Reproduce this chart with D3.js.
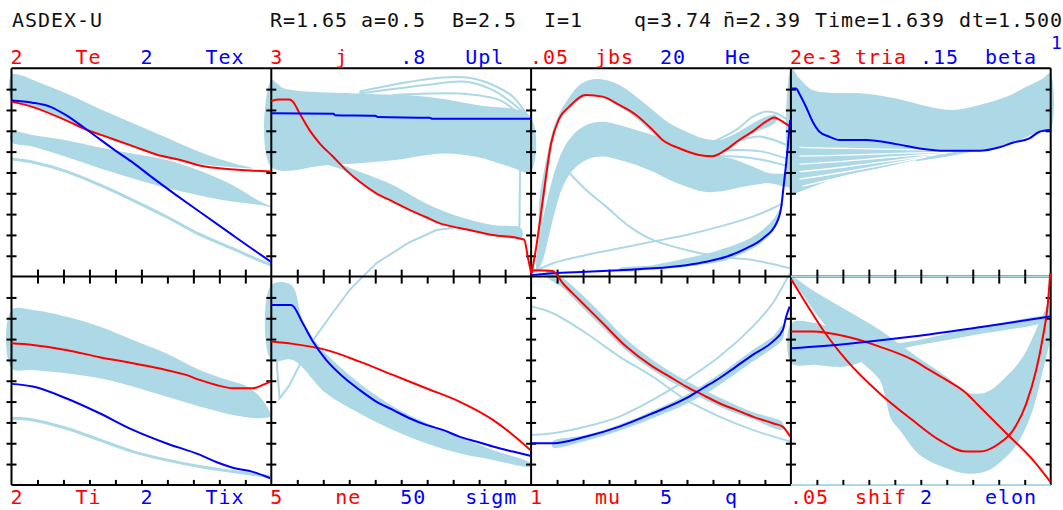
<!DOCTYPE html>
<html><head><meta charset="utf-8">
<script src="https://cdn.jsdelivr.net/npm/d3@7"></script>
<style>
body{margin:0;background:#fff}
svg{display:block}
text{font-family:"DejaVu Sans Mono",monospace;font-size:20px;white-space:pre}
</style></head>
<body><svg width="1063" height="510"></svg>
<script>
// ---------- axis maxima and labels ----------
const redNames  = ["Te","j","jbs","tria","Ti","ne","mu","shif"];
const blueNames = ["Tex","Upl","He","beta","Tix","sigm","q","elon"];
const redMaxLbl = ["2","3",".05","2e-3","2","5","1",".05"];
const blueMaxLbl= ["2",".8","20",".15","2","50","5","2"];
const redMax  = [2,3,0.05,0.002,2,5,1,0.05];
const blueMax = [2,0.8,20,0.15,2,50,5,2];
const headerTexts = ["ASDEX-U","R=1.65 a=0.5  B=2.5","I=1","q=3.74","n\u0304=2.39","Time=1.639","dt=1.500"];

// ---------- panel 1: Te / Tex ----------
const teRed = [[0,1.68],[0.08,1.63],[0.21,1.50],[0.29,1.41],[0.38,1.33],[0.47,1.25],[0.56,1.17],[0.65,1.12],[0.72,1.07],[0.80,1.04],[0.90,1.02],[1.0,1.01]];
const texBlue = [[0,1.69],[0.08,1.67],[0.15,1.63],[0.21,1.55],[0.29,1.41],[0.40,1.21],[0.47,1.09],[0.54,0.955],[0.63,0.79],[0.72,0.63],[0.85,0.40],[0.93,0.26],[1.0,0.14]];
const teHistUpper = [[0,1.94],[0.04,1.93],[0.08,1.89],[0.21,1.76],[0.34,1.61],[0.47,1.47],[0.60,1.33],[0.72,1.20],[0.85,1.09],[0.93,1.04],[0.85,1.05],[0.72,1.08],[0.60,1.14],[0.47,1.24],[0.34,1.36],[0.21,1.51],[0.08,1.64],[0,1.70]];
const teHistLower = [[0,1.39],[0.08,1.36],[0.21,1.31],[0.34,1.24],[0.47,1.18],[0.60,1.12],[0.72,1.02],[0.85,0.88],[0.95,0.73],[1.0,0.67],[0.95,0.69],[0.85,0.72],[0.72,0.78],[0.60,0.85],[0.47,0.94],[0.34,1.04],[0.21,1.15],[0.08,1.25],[0,1.29]];
const texHistLine = [[0,1.13],[0.08,1.10],[0.21,1.01],[0.34,0.88],[0.47,0.73],[0.60,0.57],[0.72,0.41],[0.85,0.27],[0.95,0.16],[1.0,0.11]];

// ---------- panel 2: j / Upl ----------
const jRed = [[0,2.53],[0.03,2.55],[0.07,2.55],[0.083,2.52],[0.109,2.35],[0.147,2.11],[0.186,1.92],[0.237,1.73],[0.289,1.53],[0.339,1.37],[0.404,1.20],[0.468,1.08],[0.532,0.96],[0.596,0.855],[0.647,0.77],[0.724,0.70],[0.788,0.65],[0.852,0.60],[0.955,0.55],[0.974,0.53],[0.987,0.29],[1.0,0.05]];
const uplBlue = [[0,0.627],[0.24,0.625],[0.245,0.62],[0.40,0.618],[0.41,0.613],[0.61,0.61],[0.62,0.606],[1.0,0.606]];
const uplHistBand = [[0,0.755],[0.032,0.729],[0.083,0.716],[0.339,0.703],[0.596,0.691],[0.789,0.659],[0.997,0.614],[0.997,0.403],[0.917,0.422],[0.789,0.460],[0.660,0.473],[0.468,0.447],[0.211,0.428],[0,0.422]];
const uplHistDiag = [[0.211,0.447],[0.339,0.403],[0.468,0.352],[0.596,0.281],[0.724,0.230],[0.853,0.198],[0.962,0.185],[0.962,0.147],[0.853,0.159],[0.724,0.185],[0.596,0.227],[0.468,0.287],[0.339,0.364],[0.275,0.409],[0.211,0.435]];
const uplHistArc1 = [[0.339,0.710],[0.532,0.748],[0.660,0.765],[0.776,0.761],[0.853,0.736],[0.930,0.691],[0.981,0.627],[0.997,0.607]];
const uplHistArc2 = [[0.339,0.703],[0.596,0.736],[0.750,0.748],[0.853,0.716],[0.930,0.665],[0.997,0.607]];
const uplHistArc3 = [[0.468,0.697],[0.724,0.703],[0.878,0.678],[0.955,0.627],[0.997,0.607]];
const jHistLine = [[0,2.83],[0.044,2.69],[0.083,2.54],[0.121,2.35],[0.16,2.16],[0.211,1.94]];
const uplHistNeg = [[0.02,-0.321],[0.032,-0.467],[0.07,-0.417],[0.147,-0.263],[0.224,-0.156],[0.301,-0.052],[0.405,0.052],[0.532,0.132],[0.636,0.179],[0.724,0.19],[0.955,0.19],[0.959,0.551],[0.998,0.54]];

// ---------- panel 3: jbs / He ----------
const jbsRed = [[0.002,0.0008],[0.02,0.0072],[0.045,0.0184],[0.077,0.0320],[0.109,0.0380],[0.147,0.0408],[0.211,0.0436],[0.275,0.0432],[0.339,0.0412],[0.404,0.0388],[0.468,0.0352],[0.506,0.0328],[0.570,0.0308],[0.647,0.0292],[0.698,0.0289],[0.749,0.0304],[0.801,0.0328],[0.852,0.0348],[0.904,0.0372],[0.936,0.0382],[0.968,0.0372],[0.997,0.0360]];
const heBlue = [[0.002,0.14],[0.084,0.31],[0.212,0.46],[0.340,0.62],[0.469,0.79],[0.597,1.10],[0.674,1.42],[0.751,1.90],[0.828,2.71],[0.892,3.67],[0.944,5.11],[0.963,6.71],[0.969,7.99],[0.979,10.23],[0.987,12.15],[0.997,15.03]];
const jbsHistBand1 = [[0.032,0.0184],[0.058,0.0280],[0.084,0.0352],[0.109,0.0392],[0.148,0.0432],[0.186,0.0460],[0.225,0.0472],[0.276,0.0473],[0.340,0.0460],[0.405,0.0432],[0.468,0.0400],[0.533,0.0368],[0.597,0.0348],[0.661,0.0332],[0.725,0.0328],[0.789,0.0344],[0.853,0.0368],[0.905,0.0384],[0.943,0.0388],[0.943,0.0372],[0.853,0.0344],[0.789,0.0324],[0.725,0.0292],[0.661,0.0288],[0.597,0.0300],[0.533,0.0313],[0.468,0.0344],[0.405,0.0380],[0.340,0.0408],[0.276,0.0430],[0.212,0.0433],[0.148,0.0406],[0.109,0.0376],[0.084,0.0320],[0.058,0.0216],[0.032,0.0072]];
const jbsHistBand2 = [[0.020,0.0040],[0.045,0.0136],[0.071,0.0208],[0.097,0.0264],[0.122,0.0304],[0.161,0.0340],[0.212,0.0364],[0.276,0.0372],[0.340,0.0364],[0.405,0.0352],[0.468,0.0340],[0.533,0.0328],[0.597,0.0312],[0.661,0.0296],[0.725,0.0288],[0.789,0.0280],[0.853,0.0264],[0.918,0.0248],[0.997,0.0244],[0.997,0.0216],[0.918,0.0224],[0.853,0.0220],[0.789,0.0212],[0.725,0.0204],[0.661,0.0204],[0.597,0.0216],[0.533,0.0232],[0.468,0.0252],[0.405,0.0268],[0.340,0.0280],[0.276,0.0288],[0.212,0.0280],[0.161,0.0256],[0.122,0.0216],[0.097,0.0168],[0.071,0.0104],[0.045,0.0040],[0.020,0.0008]];
const heHistBand = [[0.340,0.79],[0.468,1.10],[0.597,1.75],[0.725,2.55],[0.853,3.82],[0.930,5.43],[0.969,7.03],[0.963,6.39],[0.943,4.78],[0.892,3.34],[0.828,2.38],[0.751,1.58],[0.674,1.20],[0.597,0.94],[0.468,0.69],[0.340,0.56]];
const jbsHistLineA = [[0.002,0.0008],[0.084,0.0032],[0.212,0.0052],[0.340,0.0068],[0.468,0.0084],[0.597,0.0100],[0.725,0.0120],[0.853,0.0144],[0.930,0.0164],[0.969,0.0176]];
const jbsHistLineB = [[0.148,0.0248],[0.212,0.0208],[0.289,0.0168],[0.379,0.0120],[0.468,0.0088],[0.597,0.0064],[0.725,0.0048],[0.853,0.0040],[0.997,0.0020]];
const jbsHistFan1 = [[0.661,0.0312],[0.789,0.0352],[0.853,0.0384],[0.905,0.0396],[0.943,0.0392],[0.997,0.0372]];
const jbsHistFan2 = [[0.661,0.0304],[0.789,0.0324],[0.879,0.0336],[0.997,0.0312]];
const jbsHistFan3 = [[0.661,0.0296],[0.789,0.0304],[0.892,0.0300],[0.997,0.0280]];
const jbsHistFan4 = [[0.674,0.0288],[0.789,0.0288],[0.892,0.0280],[0.997,0.0264]];

// ---------- panel 4: tria / beta ----------
const triaRed = [[0.002,-0.00003],[0.059,-0.00026],[0.123,-0.00051],[0.213,-0.00080],[0.341,-0.00112],[0.469,-0.00138],[0.572,-0.00157],[0.674,-0.00168],[0.726,-0.00168],[0.803,-0.00160],[0.854,-0.00148],[0.906,-0.00122],[0.944,-0.00090],[0.970,-0.00058],[0.989,-0.00026],[0.998,0.00003]];
const betaBlue = [[0.002,0.1355],[0.020,0.1355],[0.032,0.1319],[0.058,0.1223],[0.084,0.1115],[0.110,0.1043],[0.148,0.1007],[0.187,0.0983],[0.289,0.0983],[0.405,0.0954],[0.495,0.0923],[0.597,0.0906],[0.726,0.0906],[0.803,0.0931],[0.854,0.0964],[0.918,0.0995],[0.957,0.1043],[0.998,0.1055]];
const betaHistBand = [[0.002,0.1499],[0.033,0.1427],[0.084,0.1343],[0.149,0.1324],[0.277,0.1319],[0.405,0.1283],[0.533,0.1223],[0.623,0.1199],[0.726,0.1235],[0.829,0.1295],[0.906,0.1367],[0.970,0.1427],[0.998,0.1463],[0.998,0.1055],[0.957,0.1043],[0.854,0.0964],[0.726,0.0906],[0.675,0.0892],[0.598,0.0863],[0.469,0.0827],[0.341,0.0779],[0.213,0.0731],[0.084,0.0647],[0.033,0.0611],[0.002,0.0599]];
// gaps between individual beta history curves (white streaks)
const betaGap1 = [[0.033,0.0930],[0.213,0.0923],[0.405,0.0916],[0.623,0.0906]];
const betaGap2 = [[0.033,0.0868],[0.213,0.0875],[0.405,0.0887],[0.623,0.0897]];
const betaGap3 = [[0.033,0.0810],[0.213,0.0832],[0.405,0.0863],[0.600,0.0887]];
const betaGap4 = [[0.033,0.0755],[0.213,0.0791],[0.405,0.0839],[0.560,0.0877]];
const betaGap5 = [[0.033,0.0702],[0.213,0.0755],[0.405,0.0820],[0.520,0.0860]];
const betaGap6 = [[0.045,0.0652],[0.213,0.0724],[0.405,0.0803],[0.480,0.0835]];
const triaHistBand = [[0.002,-0.0000016],[0.084,-0.00013],[0.213,-0.00032],[0.341,-0.00051],[0.469,-0.00074],[0.598,-0.00096],[0.675,-0.00111],[0.752,-0.00111],[0.829,-0.00096],[0.893,-0.00077],[0.944,-0.00051],[0.983,-0.00029],[0.998,-0.00013],[0.998,-0.00058],[0.970,-0.00090],[0.931,-0.00128],[0.880,-0.00157],[0.829,-0.00173],[0.752,-0.00187],[0.675,-0.00189],[0.598,-0.00184],[0.495,-0.00171],[0.418,-0.00147],[0.386,-0.00137],[0.360,-0.00112],[0.341,-0.00099],[0.213,-0.00069],[0.110,-0.00040],[0.033,-0.00013],[0.002,-0.00005]];
const triaHistZero = [[0,0],[1,0]];

// ---------- panel 5: Ti / Tix ----------
const tiRed = [[0,1.36],[0.082,1.344],[0.21,1.296],[0.339,1.226],[0.467,1.168],[0.595,1.104],[0.672,1.056],[0.724,1.008],[0.788,0.96],[0.852,0.928],[0.929,0.928],[0.967,0.96],[0.996,0.992]];
const tixBlue = [[0,0.97],[0.082,0.944],[0.21,0.832],[0.339,0.688],[0.467,0.528],[0.595,0.40],[0.724,0.29],[0.788,0.22],[0.852,0.165],[0.929,0.125],[0.996,0.064]];
const tiHistBand = [[0,1.68],[0.082,1.68],[0.21,1.616],[0.339,1.52],[0.467,1.392],[0.595,1.264],[0.724,1.104],[0.852,0.992],[0.903,0.95],[0.955,0.848],[0.996,0.688],[0.996,0.656],[0.955,0.64],[0.852,0.672],[0.724,0.752],[0.595,0.848],[0.467,0.944],[0.339,1.024],[0.21,1.072],[0.082,1.104],[0,1.12]];
const tixHistLine = [[0,0.64],[0.082,0.624],[0.21,0.544],[0.339,0.432],[0.467,0.32],[0.595,0.24],[0.724,0.176],[0.852,0.128],[0.996,0.08]];

// ---------- panel 6: ne / sigm ----------
const neRed = [[0,3.44],[0.083,3.385],[0.211,3.241],[0.34,2.96],[0.468,2.64],[0.596,2.321],[0.724,2.0],[0.853,1.56],[0.93,1.2],[0.997,0.84]];
const sigmBlue = [[0,43.2],[0.077,43.2],[0.121,38.8],[0.16,34.4],[0.211,30.0],[0.275,26.0],[0.34,22.8],[0.404,20.0],[0.468,18.0],[0.532,16.0],[0.596,14.4],[0.66,13.2],[0.724,11.6],[0.788,10.4],[0.853,9.2],[0.93,8.0],[0.997,7.0]];
const sigmHistBand = [[0,48],[0.077,48],[0.121,39.6],[0.186,33.2],[0.339,24.4],[0.493,18.0],[0.66,13.2],[0.853,8.4],[0.997,5.2],[0.997,4.4],[0.853,6.0],[0.724,7.6],[0.596,10.0],[0.468,13.2],[0.339,17.2],[0.211,22.0],[0.083,30.0],[0,30.0]];

// ---------- panel 7: mu / q ----------
const muRed = [[0,1.03],[0.083,1.027],[0.122,0.968],[0.186,0.888],[0.276,0.776],[0.366,0.664],[0.468,0.568],[0.533,0.52],[0.597,0.472],[0.661,0.432],[0.725,0.392],[0.789,0.36],[0.853,0.328],[0.93,0.296],[0.968,0.28],[0.997,0.232]];
const qBlue = [[0.002,1.0],[0.084,1.0],[0.212,1.16],[0.34,1.40],[0.468,1.72],[0.597,2.08],[0.661,2.32],[0.725,2.56],[0.789,2.84],[0.853,3.12],[0.93,3.44],[0.969,3.72],[0.982,4.04],[0.995,4.28]];
const muHistBand = [[0.06,1.035],[0.122,0.995],[0.186,0.925],[0.276,0.815],[0.366,0.70],[0.468,0.60],[0.597,0.50],[0.725,0.42],[0.853,0.35],[0.968,0.30],[0.968,0.265],[0.853,0.315],[0.725,0.375],[0.597,0.455],[0.468,0.55],[0.366,0.645],[0.276,0.755],[0.186,0.865],[0.122,0.945],[0.06,1.0]];
const qHistBand = [[0.084,1.05],[0.212,1.2],[0.34,1.45],[0.468,1.78],[0.597,2.16],[0.725,2.66],[0.853,3.24],[0.93,3.56],[0.969,3.84],[0.969,3.5],[0.93,3.28],[0.853,2.96],[0.725,2.4],[0.597,1.94],[0.468,1.6],[0.34,1.3],[0.212,1.06],[0.084,0.9]];
const qHistLine = [[0.002,1.2],[0.084,1.24],[0.212,1.4],[0.34,1.64],[0.468,2.04],[0.597,2.52],[0.725,3.08],[0.853,3.8],[0.93,4.36],[0.982,4.92],[0.997,5.08]];
const muHistLine = [[0.002,0.856],[0.084,0.824],[0.212,0.728],[0.34,0.616],[0.468,0.52],[0.597,0.408],[0.725,0.328],[0.853,0.264],[0.997,0.208]];

// ---------- panel 8: shif / elon ----------
const shifRed = [[0.002,0.0368],[0.084,0.0368],[0.213,0.0356],[0.341,0.0332],[0.469,0.0300],[0.533,0.0276],[0.598,0.0252],[0.675,0.0220],[0.726,0.0188],[0.829,0.0124],[0.931,0.0060],[0.998,0.0008]];
const elonBlue = [[0.002,1.312],[0.213,1.354],[0.469,1.424],[0.726,1.514],[0.998,1.616]];
const elonHistBand = [[0.002,1.552],[0.097,1.552],[0.213,1.456],[0.379,1.36],[0.674,1.488],[0.998,1.616],[0.998,1.584],[0.674,1.424],[0.379,1.28],[0.213,1.136],[0.097,1.152],[0.002,1.168]];
const shifHistZero = [[0,0],[1,0]];

// ---------- table built from the arrays ----------
const panels = [
  {red:teRed, blue:texBlue, fills:[{d:teHistUpper,u:"r"},{d:teHistLower,u:"r"}], lines:[{d:texHistLine,u:"b",w:3}]},
  {red:jRed, blue:uplBlue, fills:[{d:uplHistBand,u:"b"},{d:uplHistDiag,u:"b"}], lines:[{d:uplHistArc1,u:"b"},{d:uplHistArc2,u:"b"},{d:uplHistArc3,u:"b"},{d:jHistLine,u:"r"},{d:uplHistNeg,u:"b",lin:true}]},
  {red:jbsRed, blue:heBlue, fills:[{d:jbsHistBand1,u:"r"},{d:jbsHistBand2,u:"r"},{d:heHistBand,u:"b"}], lines:[{d:jbsHistLineA,u:"r"},{d:jbsHistLineB,u:"r"},{d:jbsHistFan1,u:"r"},{d:jbsHistFan2,u:"r"},{d:jbsHistFan3,u:"r"},{d:jbsHistFan4,u:"r"}]},
  {red:triaRed, blue:betaBlue, fills:[{d:betaHistBand,u:"b"},{d:triaHistBand,u:"r"}],
   lines:[{d:triaHistZero,u:"r",over:true,lin:true}],
   gaps:[betaGap1,betaGap2,betaGap3,betaGap4,betaGap5,betaGap6].map(d=>({d,u:"b"}))},
  {red:tiRed, blue:tixBlue, fills:[{d:tiHistBand,u:"r"}], lines:[{d:tixHistLine,u:"b",w:3}]},
  {red:neRed, blue:sigmBlue, fills:[{d:sigmHistBand,u:"b"}], lines:[]},
  {red:muRed, blue:qBlue, fills:[{d:muHistBand,u:"r"},{d:qHistBand,u:"b"}], lines:[{d:qHistLine,u:"b"},{d:muHistLine,u:"r"}]},
  {red:shifRed, blue:elonBlue, fills:[{d:elonHistBand,u:"b"}], lines:[{d:shifHistZero,u:"r",over:true,lin:true}]}
];

const RED="#ff0000", BLUE="#0000ff", HIST="#add8e6";
const PW=259.8, PH=208.3, PX=11.5, PY=68.3;
const svg=d3.select("svg");
const gHist=svg.append("g"), gGap=svg.append("g"), gFrame=svg.append("g"), gOver=svg.append("g"), gTicks=svg.append("g"), gMain=svg.append("g"), gText=svg.append("g");

panels.forEach((p,i)=>{
  const col=i%4, row=Math.floor(i/4);
  const left=PX+col*PW, top=PY+row*PH, bottom=top+PH;
  const x=d3.scaleLinear().domain([0,1]).range([left,left+PW]);
  const ys={r:d3.scaleLinear().domain([0,redMax[i]]).range([bottom,top]),
            b:d3.scaleLinear().domain([0,blueMax[i]]).range([bottom,top])};
  p.fills.forEach(f=>{
    const gen=d3.line().x(d=>x(d[0])).y(d=>ys[f.u](d[1])).curve(d3.curveCatmullRomClosed.alpha(0.5));
    gHist.append("path").attr("d",gen(f.d)).attr("fill",HIST);
  });
  p.lines.forEach(l=>{
    const gen=d3.line().x(d=>x(d[0])).y(d=>ys[l.u](d[1])).curve(l.lin?d3.curveLinear:d3.curveCatmullRom.alpha(0.5));
    (l.over?gOver:gHist).append("path").attr("d",gen(l.d)).attr("fill","none")
      .attr("stroke",HIST).attr("stroke-width",l.w||2);
  });
  (p.gaps||[]).forEach(l=>{
    const gen=d3.line().x(d=>x(d[0])).y(d=>ys[l.u](d[1])).curve(d3.curveCatmullRom.alpha(0.5));
    gGap.append("path").attr("d",gen(l.d)).attr("fill","none").attr("stroke","#fff").attr("stroke-width",1.3);
  });
  [["r",p.red,RED],["b",p.blue,BLUE]].forEach(([u,d,c])=>{
    const gen=d3.line().x(v=>x(v[0])).y(v=>ys[u](v[1])).curve(d3.curveMonotoneX);
    gMain.append("path").attr("d",gen(d)).attr("fill","none").attr("stroke",c).attr("stroke-width",2);
  });
  // labels
  const ly = row===0 ? 64 : 504;
  const lx = left-1;
  [[redMaxLbl[i],RED],[redNames[i],RED],[blueMaxLbl[i],BLUE],[blueNames[i],BLUE]].forEach(([t,c],k)=>{
    gText.append("text").attr("x",lx+k*65).attr("y",ly).attr("fill",c)
      .attr("letter-spacing","0.96px").text(t);
  });
  // x ticks
  const xt=d3.scaleLinear().domain([0,10]).range([left,left+PW]);
  if(row===0){
    gTicks.append("g").attr("transform",`translate(0,${bottom})`)
      .call(d3.axisBottom(xt).tickValues(d3.range(1,10)).tickSize(7).tickSizeOuter(0).tickFormat(""));
    gTicks.append("g").attr("transform",`translate(0,${bottom})`)
      .call(d3.axisTop(xt).tickValues([1,2,3,4,5,7,8,9]).tickSize(7).tickSizeOuter(0).tickFormat(""));
  } else {
    gTicks.append("g").attr("transform",`translate(0,${bottom})`)
      .call(d3.axisTop(xt).tickValues(d3.range(1,10)).tickSize(5).tickSizeOuter(0).tickFormat(""));
  }
});

// frame
const fx=d3.range(5).map(c=>PX+c*PW);
const fy=d3.range(3).map(r=>PY+r*PH);
fy.forEach(y=>gFrame.append("line").attr("x1",PX).attr("x2",PX+4*PW).attr("y1",y).attr("y2",y));
fx.forEach(x=>gFrame.append("line").attr("x1",x).attr("x2",x).attr("y1",PY).attr("y2",PY+2*PH));
gFrame.selectAll("line").attr("stroke","#000").attr("stroke-width",2);

// y ticks on every vertical frame line
fx.forEach((xv,c)=>{
  [0,1].forEach(r=>{
    const yt=d3.scaleLinear().domain([0,10]).range([PY+(r+1)*PH,PY+r*PH]);
    gTicks.append("g").attr("transform",`translate(${xv},0)`)
      .call(d3.axisLeft(yt).tickValues(d3.range(1,10)).tickSize(5).tickSizeOuter(0).tickFormat(""));
    if(c<4) gTicks.append("g").attr("transform",`translate(${xv},0)`)
      .call(d3.axisRight(yt).tickValues(d3.range(1,10)).tickSize(5).tickSizeOuter(0).tickFormat(""));
  });
});
gTicks.selectAll(".domain").remove();
gTicks.selectAll(".tick line").attr("stroke","#000").attr("stroke-width",2);

// header
const hx=[12,270,544,634,723,815,959];
headerTexts.forEach((t,k)=>{
  gText.append("text").attr("x",hx[k]).attr("y",27).attr("fill","#111")
    .attr("letter-spacing","0.96px").text(t);
});
gText.append("text").attr("x",1051).attr("y",49).attr("fill",BLUE).style("font-size","18px").text("1");
</script></body></html>
